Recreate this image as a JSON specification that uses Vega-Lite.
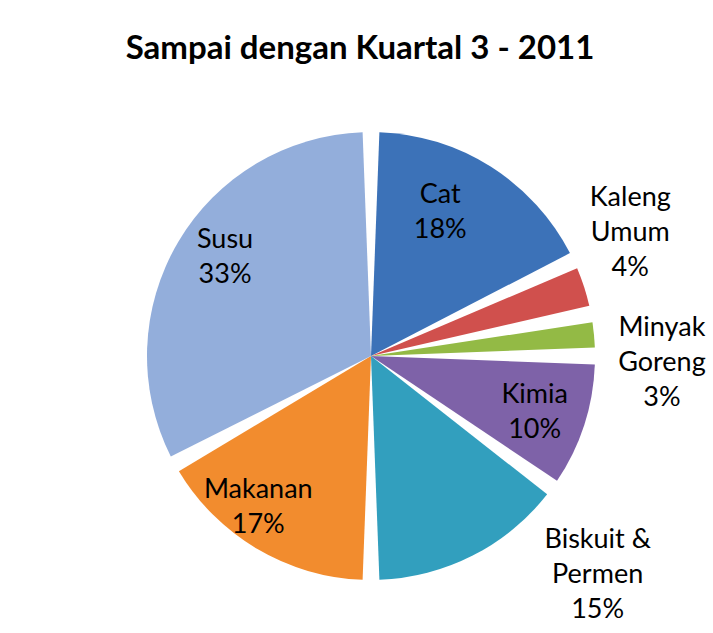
{
  "$schema": "https://vega.github.io/schema/vega-lite/v6.json",
  "width": 684,
  "height": 554,
  "autosize": {"type": "none"},
  "padding": {"left": 29, "top": 79, "right": 0, "bottom": 0},
  "background": "white",
  "view": {"stroke": null},
  "title": {
    "text": "Sampai dengan Kuartal 3 - 2011",
    "font": "Lato",
    "fontSize": 33,
    "fontWeight": "bold",
    "color": "black",
    "anchor": "middle",
    "frame": "group",
    "baseline": "alphabetic",
    "offset": 17,
    "dx": -11,
    "dy": 108
  },
  "data": {
    "values": [
      {"idx": 1, "cat": "Cat", "pct": 18, "label": "Cat\n18%"},
      {"idx": 2, "cat": "Kaleng Umum", "pct": 4, "label": "Kaleng\nUmum\n4%"},
      {"idx": 3, "cat": "Minyak Goreng", "pct": 3, "label": "Minyak\nGoreng\n3%"},
      {"idx": 4, "cat": "Kimia", "pct": 10, "label": "Kimia\n10%"},
      {"idx": 5, "cat": "Biskuit & Permen", "pct": 15, "label": "Biskuit &\nPermen\n15%"},
      {"idx": 6, "cat": "Makanan", "pct": 17, "label": "Makanan\n17%"},
      {"idx": 7, "cat": "Susu", "pct": 33, "label": "Susu\n33%"}
    ]
  },
  "encoding": {
    "theta": {"field": "pct", "type": "quantitative", "stack": true},
    "order": {"field": "idx", "type": "quantitative"}
  },
  "layer": [
    {
      "mark": {"type": "arc", "outerRadius": 224, "padAngle": 0.075},
      "encoding": {
        "color": {
          "field": "cat",
          "type": "nominal",
          "legend": null,
          "scale": {
            "domain": ["Cat", "Kaleng Umum", "Minyak Goreng", "Kimia", "Biskuit & Permen", "Makanan", "Susu"],
            "range": ["#3C72B8", "#D0504D", "#93BA45", "#7E62A8", "#329FBE", "#F28C2E", "#93AEDB"]
          }
        }
      }
    },
    {
      "mark": {"type": "text", "radius": 159, "thetaOffset": -0.115, "dy": -17.5, "font": "Lato", "fontSize": 27, "lineBreak": "\n", "lineHeight": 35, "align": "center", "baseline": "middle", "color": "black"},
      "encoding": {"text": {"condition": {"test": "datum.cat == 'Cat'", "field": "label"}, "value": ""}}
    },
    {
      "mark": {"type": "text", "radius": 173, "thetaOffset": 0.016, "dy": -17.5, "font": "Lato", "fontSize": 27, "lineBreak": "\n", "lineHeight": 35, "align": "center", "baseline": "middle", "color": "black"},
      "encoding": {"text": {"condition": {"test": "datum.cat == 'Kimia'", "field": "label"}, "value": ""}}
    },
    {
      "mark": {"type": "text", "radius": 189, "thetaOffset": 0.105, "dy": -17.5, "font": "Lato", "fontSize": 27, "lineBreak": "\n", "lineHeight": 35, "align": "center", "baseline": "middle", "color": "black"},
      "encoding": {"text": {"condition": {"test": "datum.cat == 'Makanan'", "field": "label"}, "value": ""}}
    },
    {
      "mark": {"type": "text", "radius": 176, "thetaOffset": 0.059, "dy": -17.5, "font": "Lato", "fontSize": 27, "lineBreak": "\n", "lineHeight": 35, "align": "center", "baseline": "middle", "color": "black"},
      "encoding": {"text": {"condition": {"test": "datum.cat == 'Susu'", "field": "label"}, "value": ""}}
    },
    {
      "mark": {"type": "text", "radius": 287, "thetaOffset": -0.129, "dy": -35, "font": "Lato", "fontSize": 27, "lineBreak": "\n", "lineHeight": 35, "align": "center", "baseline": "middle", "color": "black"},
      "encoding": {"text": {"condition": {"test": "datum.cat == 'Kaleng Umum'", "field": "label"}, "value": ""}}
    },
    {
      "mark": {"type": "text", "radius": 291, "thetaOffset": 0.119, "dy": -35, "font": "Lato", "fontSize": 27, "lineBreak": "\n", "lineHeight": 35, "align": "center", "baseline": "middle", "color": "black"},
      "encoding": {"text": {"condition": {"test": "datum.cat == 'Minyak Goreng'", "field": "label"}, "value": ""}}
    },
    {
      "mark": {"type": "text", "radius": 315, "thetaOffset": -0.332, "dy": -35, "font": "Lato", "fontSize": 27, "lineBreak": "\n", "lineHeight": 35, "align": "center", "baseline": "middle", "color": "black"},
      "encoding": {"text": {"condition": {"test": "datum.cat == 'Biskuit & Permen'", "field": "label"}, "value": ""}}
    }
  ]
}
